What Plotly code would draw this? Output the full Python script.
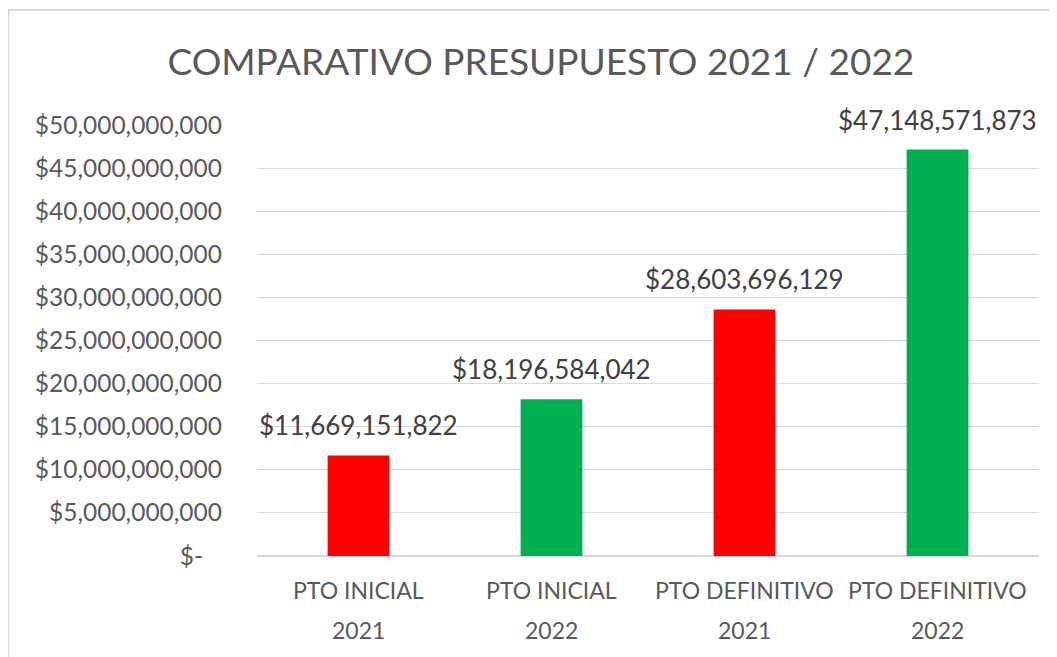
import plotly.graph_objects as go

# --- Data ---
categories = ["PTO INICIAL<br>2021", "PTO INICIAL<br>2022",
              "PTO DEFINITIVO<br>2021", "PTO DEFINITIVO<br>2022"]
values = [11669151822, 18196584042, 28603696129, 47148571873]
bar_colors = ["#FF0000", "#00B050", "#FF0000", "#00B050"]
tick_vals = [0, 5e9, 10e9, 15e9, 20e9, 25e9, 30e9, 35e9, 40e9, 45e9, 50e9]
tick_text = ["$-   "] + ["${:,.0f}".format(v) for v in tick_vals[1:]]

FONT = "Lato, Open Sans, sans-serif"
GREY = "#595959"

fig = go.Figure()
fig.add_trace(go.Bar(
    x=categories, y=values,
    marker=dict(color=bar_colors, line=dict(width=0)),
    width=0.32,
    hoverinfo="x+y",
))

# data labels above the bars
for c, v in zip(categories, values):
    fig.add_annotation(x=c, y=v, text="${:,.0f}".format(v),
                       showarrow=False, yanchor="middle", yshift=30,
                       font=dict(family=FONT, size=26, color="#404040"))

# category labels (two lines, wider line spacing than plotly ticks allow)
for c in categories:
    line1, line2 = c.split("<br>")
    for txt, shift in ((line1, -34), (line2, -74)):
        fig.add_annotation(x=c, y=0, yref="paper", text=txt,
                           showarrow=False, yanchor="middle", yshift=shift,
                           font=dict(family=FONT, size=23, color=GREY))

# chart frame like the Excel chart border
fig.add_shape(type="rect", xref="paper", yref="paper",
              x0=-0.318, x1=1.05, y0=-0.3, y1=1.267,
              line=dict(color="#D9D9D9", width=2), layer="below")

fig.update_layout(
    width=1049, height=649,
    margin=dict(l=249, r=18, t=117, b=101, autoexpand=False),
    paper_bgcolor="white", plot_bgcolor="white",
    showlegend=False,
    title=dict(text="COMPARATIVO PRESUPUESTO 2021 / 2022",
               x=0.508, xanchor="center", y=0.917, yanchor="middle",
               font=dict(family=FONT, size=37, color=GREY)),
    xaxis=dict(showgrid=False, showline=False, ticks="",
               showticklabels=False, automargin=False),
    yaxis=dict(range=[0, 50e9], tickvals=tick_vals, ticktext=tick_text,
               showgrid=True, gridcolor="#D9D9D9", gridwidth=1,
               zeroline=True, zerolinecolor="#D9D9D9", zerolinewidth=2,
               ticks="", ticklabelstandoff=34, automargin=False,
               tickfont=dict(family=FONT, size=24.5, color=GREY)),
)

fig.write_html("out.html")
